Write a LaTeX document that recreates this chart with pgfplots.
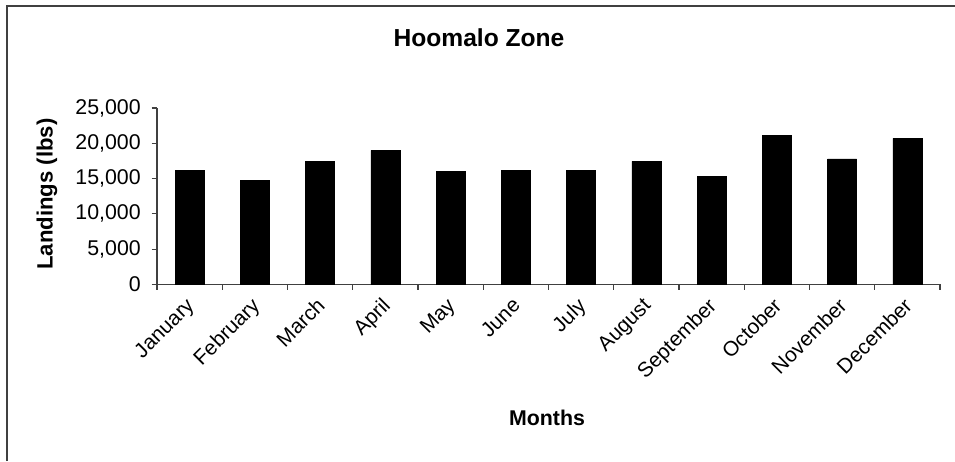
\documentclass[border=0pt]{standalone}
\usepackage{pgfplots}
\pgfplotsset{compat=1.18}
\usepackage{fontspec}
\setmainfont{Liberation Sans}
\definecolor{axisgray}{HTML}{404040}
\begin{document}
\begin{tikzpicture}[x=1pt,y=1pt]
\useasboundingbox (0,0) rectangle (716.25,345.75);
\draw[axisgray, line width=1.5pt] (5.25,0) -- (5.25,341.25) -- (716.25,341.25);
\begin{axis}[
  at={(117.75pt,132.53pt)}, anchor=south west,
  scale only axis, width=587.25pt, height=132.2pt,
  xmin=-0.5, xmax=11.5, ymin=0, ymax=25000,
  axis x line*=bottom, axis y line*=left,
  axis line style={axisgray, line width=0.8pt, -},
  ybar, bar width=21.75pt,
  xtick={0,...,11},
  xticklabels={January,February,March,April,May,June,July,August,September,October,November,December},
  minor xtick={-0.5,0.5,...,11.5},
  major x tick style={draw=none},
  minor x tick style={axisgray, line width=0.8pt},
  ytick={0,5000,...,25000},
  y tick style={axisgray, line width=0.8pt},
  tick align=outside, major tick length=4pt, minor tick length=4pt,
  scaled y ticks=false,
  /pgf/number format/.cd, 1000 sep={,}, assume math mode=true, /pgfplots/.cd,
  xticklabel style={font=\fontsize{15.6}{18}\selectfont, text=black, rotate=45, anchor=north east, inner sep=1pt, xshift=-5pt, yshift=0pt},
  yticklabel style={font=\fontsize{16}{18}\selectfont, text=black, inner sep=0pt, xshift=-8pt},
  clip=false,
]
\addplot[fill=black, draw=black] coordinates {
(0,16200) (1,14750) (2,17450) (3,19000) (4,16000) (5,16200)
(6,16200) (7,17450) (8,15300) (9,21100) (10,17800) (11,20700)};
\end{axis}
\node[font=\bfseries\fontsize{18.45}{22}\selectfont] at (359.25,317.25) {Hoomalo Zone};
\node[font=\bfseries\fontsize{16.6}{20}\selectfont, rotate=90] at (35.25,200.25) {Landings (lbs)};
\node[font=\bfseries\fontsize{16}{18}\selectfont] at (410.25,32.25) {Months};
\end{tikzpicture}
\end{document}
